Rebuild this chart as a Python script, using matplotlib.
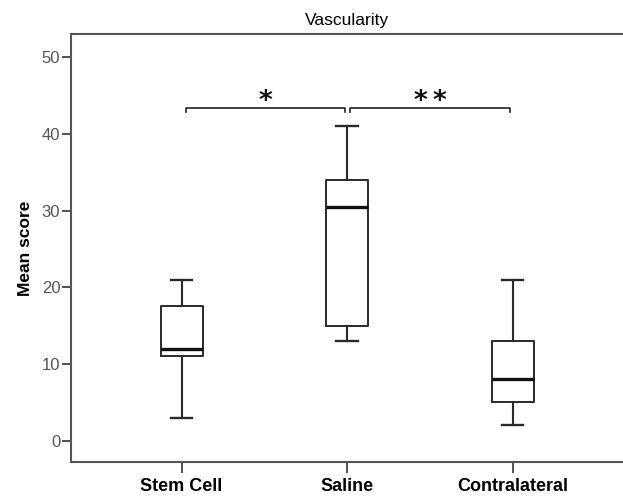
import matplotlib
matplotlib.use("Agg")
import matplotlib.pyplot as plt

categories = ["Stem Cell", "Saline", "Contralateral"]
whisker_low = [3, 13, 2]
q1 = [11, 15, 5]
median = [12, 30.5, 8]
q3 = [17.5, 34, 13]
whisker_high = [21, 41, 21]
yticks = [0, 10, 20, 30, 40, 50]
brackets = [(1, 2, "*"), (2, 3, "*\u2009*")]
bracket_y = 43.4

plt.rcParams['font.family'] = ['Liberation Sans', 'DejaVu Sans']

fig = plt.figure(figsize=(6.23, 4.97), dpi=100)
ax = fig.add_axes([0.1135, 0.071, 0.8875, 0.86])

stats = []
for i, c in enumerate(categories):
    stats.append(dict(label=c, whislo=whisker_low[i], q1=q1[i], med=median[i],
                      q3=q3[i], whishi=whisker_high[i], fliers=[]))

pos = list(range(1, len(categories) + 1))
line_col = "#2a2a2a"
ax.bxp(stats, positions=pos, widths=0.255, capwidths=0.13, showfliers=False,
       boxprops=dict(color=line_col, linewidth=1.4),
       whiskerprops=dict(color=line_col, linewidth=1.5),
       capprops=dict(color=line_col, linewidth=1.7),
       medianprops=dict(color="#111111", linewidth=2.4))

ax.set_xlim(0.33, 3.67)
ax.set_ylim(-2.75, 53.0)
ax.set_yticks(yticks)
ax.set_yticklabels([str(v) for v in yticks], color="#555555", fontsize=12)
ax.set_xticks(pos)
ax.set_xticklabels(categories, fontsize=13, fontweight="bold")
ax.tick_params(axis='y', length=6.5, width=1.3, color="#444444", pad=1)
ax.tick_params(axis='x', length=8, width=1.3, color="#444444", pad=4)

for side in ["left", "bottom", "top"]:
    ax.spines[side].set_color("#555555")
    ax.spines[side].set_linewidth(1.5)
ax.spines["right"].set_visible(False)

ax.set_ylabel("Mean score", fontsize=12.5, fontweight="bold", labelpad=6)
ax.set_title("Vascularity", fontsize=12.5, pad=7)

for (a, b, star) in brackets:
    x0 = a + (0.026 if a == 1 else 0.015)
    x1 = b - (0.012 if b == 2 else 0.015)
    ax.plot([x0, x0, x1, x1], [bracket_y - 0.55, bracket_y, bracket_y, bracket_y - 0.55],
            color="#222222", linewidth=1.2)
    ax.text((x0 + x1) / 2, bracket_y - 0.9, star, ha="center", va="bottom",
            fontsize=19, fontweight="bold", family="DejaVu Sans", color="#111111")

fig.savefig("out.png", dpi=100)
